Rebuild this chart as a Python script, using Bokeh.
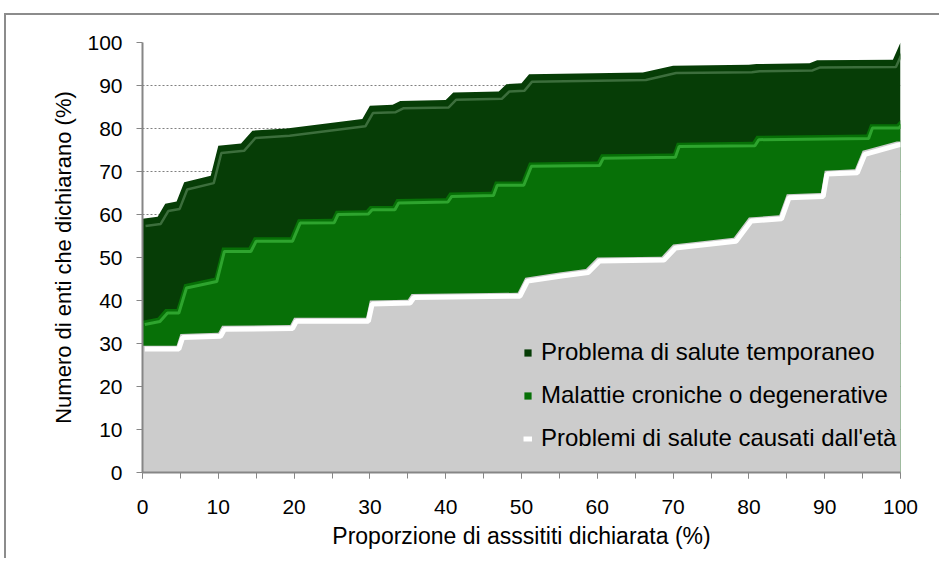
from bokeh.plotting import figure
from bokeh.models import Legend, LegendItem, ColumnDataSource, FixedTicker
from bokeh.transform import dodge
from bokeh.embed import file_html
from bokeh.resources import INLINE

# Cumulative curves (x = proporzione di assistiti dichiarata %, y = % enti)
temp_x = [0, 2, 3, 4.5, 5.5, 9, 10, 13, 14.5, 19, 29, 30, 33, 34, 40, 41, 47, 48, 50, 51, 66, 70, 80, 81, 88, 89, 99, 100]
temp_y = [59, 59.5, 62.5, 63, 67.5, 69, 76, 76.5, 79.5, 80, 82.2, 85.3, 85.5, 86.4, 86.6, 88.4, 88.6, 90.3, 90.5, 92.6, 93, 94.6, 94.8, 95, 95.2, 95.9, 96, 100]

cron_x = [0, 2, 3, 4.5, 5.5, 9.5, 10.5, 14, 14.7, 19.5, 20.5, 25, 25.5, 29.5, 30, 33, 33.5, 40, 40.5, 46, 46.5, 50, 51, 60, 60.5, 70, 70.5, 80.5, 81, 95.5, 96, 99.5, 100]
cron_y = [35.3, 36, 38, 38, 43.8, 45.3, 52.3, 52.3, 54.7, 54.7, 58.9, 59, 60.9, 61, 62, 62, 63.6, 63.8, 65.1, 65.3, 67.7, 67.7, 72.1, 72.3, 74, 74.2, 76.7, 76.9, 78.3, 78.6, 81, 81, 82]

eta_x = [0, 4.5, 5, 10, 10.5, 19.5, 20, 29.5, 30, 35, 35.5, 49.5, 50.5, 55, 58.5, 60, 68.5, 70, 78, 80, 84, 85, 89.5, 90, 94, 95, 99.5, 100]
eta_y = [29.5, 29.5, 32.2, 32.5, 34.1, 34.3, 36, 36, 40, 40.2, 41.5, 41.8, 45.3, 46.5, 47.3, 50, 50.2, 53, 54.6, 59.3, 59.8, 64.7, 65, 70.2, 70.5, 74.8, 77, 77]

series_names = ["Problema di salute temporaneo",
                "Malattie croniche o degenerative",
                "Problemi di salute causati dall'età"]
x_ticks = [0, 10, 20, 30, 40, 50, 60, 70, 80, 90, 100]
x_minor = [0, 5, 10, 15, 20, 25, 30, 35, 40, 45, 50, 55, 60, 65, 70, 75, 80, 85, 90, 95, 100]
y_ticks = [0, 10, 20, 30, 40, 50, 60, 70, 80, 90, 100]

FONT = "Liberation Sans"

p = figure(width=935, height=545, x_range=(0, 100), y_range=(0, 100),
           output_backend="svg", toolbar_location=None,
           min_border_left=136, min_border_right=41, min_border_top=27, min_border_bottom=88)
p.styles = {"border-top": "2px solid #8c8c8c", "border-left": "2px solid #8c8c8c",
            "margin-top": "13px", "margin-left": "4px"}
p.outline_line_color = None
p.background_fill_color = "white"

src_t = ColumnDataSource(dict(x=temp_x, y=temp_y))
src_c = ColumnDataSource(dict(x=cron_x, y=cron_y))
src_e = ColumnDataSource(dict(x=eta_x, y=eta_y))

r_t = p.varea(x="x", y1=0, y2="y", source=src_t, fill_color="#063d06")
p.line(x=dodge("x", 0.4, range=p.x_range), y=dodge("y", -1.7, range=p.y_range), source=src_t,
       line_color="#3c6e3c", line_width=2.5)
r_c = p.varea(x="x", y1=0, y2="y", source=src_c, fill_color="#077007")
p.line(x=dodge("x", 0.3, range=p.x_range), y=dodge("y", -0.9, range=p.y_range), source=src_c,
       line_color="#2ea42e", line_width=3)
r_e = p.varea(x="x", y1=0, y2="y", source=src_e, fill_color="#cccccc")
l_e = p.line(x=dodge("x", 0.3, range=p.x_range), y=dodge("y", -0.8, range=p.y_range), source=src_e,
             line_color="#ffffff", line_width=5)

# grid
p.xgrid.grid_line_color = None
p.ygrid.grid_line_color = "#808080"
p.ygrid.grid_line_dash = "2 2"
p.ygrid.grid_line_width = 1

# axes
p.xaxis.ticker = FixedTicker(ticks=x_ticks, minor_ticks=x_minor)
p.yaxis.ticker = FixedTicker(ticks=y_ticks)
for ax in (p.xaxis[0], p.yaxis[0]):
    ax.axis_line_color = "#868686"
    ax.axis_line_width = 2
    ax.major_tick_line_color = "#868686"
    ax.minor_tick_line_color = "#868686"
    ax.major_tick_in = 0
    ax.major_tick_out = 6
    ax.minor_tick_in = 0
    ax.minor_tick_out = 6
    ax.major_label_text_font = FONT
    ax.major_label_text_font_size = "21px"
    ax.major_label_text_color = "black"
    ax.axis_label_text_font = FONT
    ax.axis_label_text_font_style = "normal"
    ax.axis_label_text_color = "black"
p.xaxis.axis_label_text_font_size = "23px"
p.yaxis.axis_label_text_font_size = "22px"
p.yaxis.minor_tick_line_color = None
p.xaxis.major_label_standoff = 21
p.yaxis.major_label_standoff = 14
p.xaxis.axis_label = "Proporzione di asssititi dichiarata (%)"
p.yaxis.axis_label = "Numero di enti che dichiarano (%)"
p.xaxis.axis_label_standoff = 6
p.yaxis.axis_label_standoff = 8

legend = Legend(items=[LegendItem(label=series_names[0], renderers=[r_t]),
                       LegendItem(label=series_names[1], renderers=[r_c]),
                       LegendItem(label=series_names[2], renderers=[r_e, l_e])],
                location=(381, 20), orientation="vertical")
legend.background_fill_alpha = 0
legend.border_line_color = None
legend.padding = 0
legend.margin = 0
legend.glyph_width = 9
legend.glyph_height = 9
legend.label_standoff = 9
legend.spacing = 15
legend.label_height = 22
legend.label_text_font = FONT
legend.label_text_font_size = "24px"
legend.label_text_color = "black"
p.add_layout(legend, "center")

open("out.html", "w").write(file_html(p, INLINE))
